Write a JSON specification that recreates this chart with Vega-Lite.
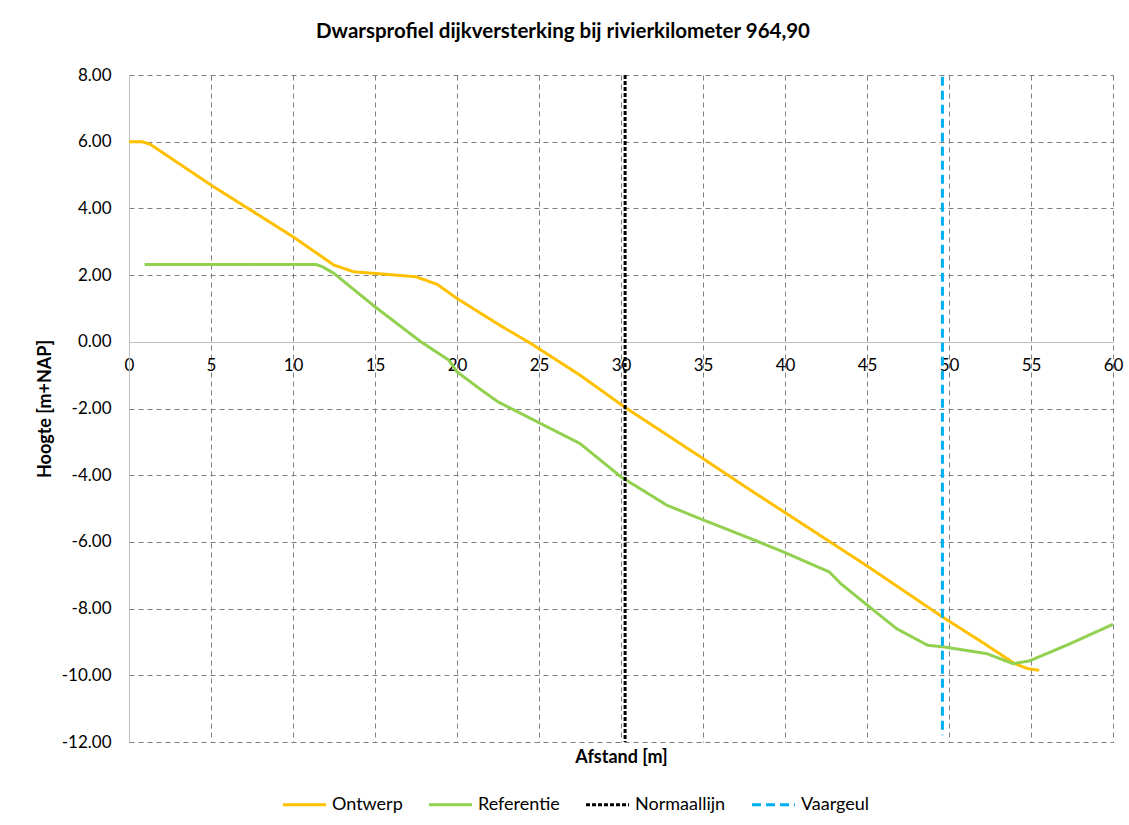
{
  "$schema": "https://vega.github.io/schema/vega-lite/v6.json",
  "width": 984,
  "height": 667,
  "autosize": {"type": "none"},
  "padding": {"left": 129, "top": 75, "right": 16, "bottom": 83},
  "background": "white",
  "config": {"font": "Lato", "view": {"stroke": null}},
  "title": {"text": "Dwarsprofiel dijkversterking bij rivierkilometer 964,90", "fontSize": 20.5, "fontWeight": "bold", "font": "Lato", "color": "#000000", "anchor": "middle", "dx": -58, "offset": 24},
  "data": {"values": [
    {"s": "Ontwerp", "i": 1, "x": 0, "y": 6.0},
    {"s": "Ontwerp", "i": 2, "x": 0.8, "y": 6.0},
    {"s": "Ontwerp", "i": 3, "x": 1.3, "y": 5.92},
    {"s": "Ontwerp", "i": 4, "x": 5, "y": 4.7},
    {"s": "Ontwerp", "i": 5, "x": 10, "y": 3.15},
    {"s": "Ontwerp", "i": 6, "x": 12.5, "y": 2.3},
    {"s": "Ontwerp", "i": 7, "x": 13.7, "y": 2.1},
    {"s": "Ontwerp", "i": 8, "x": 15, "y": 2.05},
    {"s": "Ontwerp", "i": 9, "x": 17.5, "y": 1.95},
    {"s": "Ontwerp", "i": 10, "x": 18.8, "y": 1.72},
    {"s": "Ontwerp", "i": 11, "x": 20, "y": 1.3},
    {"s": "Ontwerp", "i": 12, "x": 22.6, "y": 0.5},
    {"s": "Ontwerp", "i": 13, "x": 24.5, "y": -0.05},
    {"s": "Ontwerp", "i": 14, "x": 27.5, "y": -1.0},
    {"s": "Ontwerp", "i": 15, "x": 30.2, "y": -1.95},
    {"s": "Ontwerp", "i": 16, "x": 35, "y": -3.5},
    {"s": "Ontwerp", "i": 17, "x": 37.9, "y": -4.45},
    {"s": "Ontwerp", "i": 18, "x": 40, "y": -5.12},
    {"s": "Ontwerp", "i": 19, "x": 45, "y": -6.72},
    {"s": "Ontwerp", "i": 20, "x": 49.6, "y": -8.25},
    {"s": "Ontwerp", "i": 21, "x": 52, "y": -9.0},
    {"s": "Ontwerp", "i": 22, "x": 54, "y": -9.65},
    {"s": "Ontwerp", "i": 23, "x": 54.8, "y": -9.8},
    {"s": "Ontwerp", "i": 24, "x": 55.5, "y": -9.85},
    {"s": "Referentie", "i": 1, "x": 0.95, "y": 2.32},
    {"s": "Referentie", "i": 2, "x": 11.4, "y": 2.32},
    {"s": "Referentie", "i": 3, "x": 11.8, "y": 2.25},
    {"s": "Referentie", "i": 4, "x": 12.5, "y": 2.05},
    {"s": "Referentie", "i": 5, "x": 15, "y": 1.05},
    {"s": "Referentie", "i": 6, "x": 17.8, "y": 0.0},
    {"s": "Referentie", "i": 7, "x": 19.5, "y": -0.55},
    {"s": "Referentie", "i": 8, "x": 20, "y": -0.9},
    {"s": "Referentie", "i": 9, "x": 21.5, "y": -1.45},
    {"s": "Referentie", "i": 10, "x": 22.5, "y": -1.8},
    {"s": "Referentie", "i": 11, "x": 24.7, "y": -2.35},
    {"s": "Referentie", "i": 12, "x": 27.5, "y": -3.05},
    {"s": "Referentie", "i": 13, "x": 30, "y": -4.05},
    {"s": "Referentie", "i": 14, "x": 32.8, "y": -4.9},
    {"s": "Referentie", "i": 15, "x": 34.8, "y": -5.3},
    {"s": "Referentie", "i": 16, "x": 37.9, "y": -5.9},
    {"s": "Referentie", "i": 17, "x": 39.9, "y": -6.3},
    {"s": "Referentie", "i": 18, "x": 42.7, "y": -6.9},
    {"s": "Referentie", "i": 19, "x": 43.4, "y": -7.25},
    {"s": "Referentie", "i": 20, "x": 44.9, "y": -7.85},
    {"s": "Referentie", "i": 21, "x": 46.8, "y": -8.6},
    {"s": "Referentie", "i": 22, "x": 48.7, "y": -9.1},
    {"s": "Referentie", "i": 23, "x": 49.7, "y": -9.15},
    {"s": "Referentie", "i": 24, "x": 52.3, "y": -9.35},
    {"s": "Referentie", "i": 25, "x": 53.9, "y": -9.65},
    {"s": "Referentie", "i": 26, "x": 54.9, "y": -9.57},
    {"s": "Referentie", "i": 27, "x": 57.4, "y": -9.05},
    {"s": "Referentie", "i": 28, "x": 60, "y": -8.47},
    {"s": "Normaallijn", "i": 1, "x": 30.25, "y": 8},
    {"s": "Normaallijn", "i": 2, "x": 30.25, "y": -12},
    {"s": "Vaargeul", "i": 1, "x": 49.6, "y": 7.95},
    {"s": "Vaargeul", "i": 2, "x": 49.6, "y": -11.8}
  ]},
  "mark": {"type": "line", "strokeJoin": "round"},
  "encoding": {
    "x": {"field": "x", "type": "quantitative",
      "scale": {"domain": [0, 60], "nice": false, "zero": false},
      "axis": {"values": [0, 5, 10, 15, 20, 25, 30, 35, 40, 45, 50, 55, 60], "offset": -400,
        "title": "Afstand [m]", "titleY": 406, "titleFontSize": 18, "titleFontWeight": "bold", "titleColor": "#000000",
        "grid": true, "gridDash": [5, 4], "gridColor": "#7f7f7f", "gridWidth": 1,
        "domainColor": "#bfbfbf", "domainWidth": 1, "ticks": false, "labelPadding": 15,
        "labelFontSize": 17, "labelColor": "#000000", "labelFlush": false}},
    "y": {"field": "y", "type": "quantitative",
      "scale": {"domain": [-12, 8], "nice": false, "zero": false},
      "axis": {"values": [-12, -10, -8, -6, -4, -2, 0, 2, 4, 6, 8],
        "labelExpr": "replace(format(datum.value, '.2f'), '\u2212', '-')",
        "title": "Hoogte [m+NAP]", "titleFontSize": 18, "titleFontWeight": "bold", "titleColor": "#000000", "titlePadding": 7,
        "grid": true, "gridDash": [5, 4], "gridColor": "#7f7f7f", "gridWidth": 1,
        "domainColor": "#bfbfbf", "domainWidth": 1, "ticks": false, "labelPadding": 18,
        "labelFontSize": 17, "labelColor": "#000000"}},
    "color": {"field": "s", "type": "nominal",
      "scale": {"domain": ["Ontwerp", "Referentie", "Normaallijn", "Vaargeul"], "range": ["#FFC000", "#92D050", "#000000", "#00B0F0"]},
      "legend": {"title": null, "orient": "none", "legendX": 152, "legendY": 706, "direction": "horizontal",
        "symbolType": "stroke", "symbolSize": 1850, "symbolStrokeWidth": 3.5, "labelFontSize": 18, "labelColor": "#000000",
        "labelOffset": 4, "columnPadding": 19}},
    "strokeDash": {"field": "s", "type": "nominal",
      "scale": {"domain": ["Ontwerp", "Referentie", "Normaallijn", "Vaargeul"], "range": [[1, 0], [1, 0], [4, 2], [9, 5]]},
      "legend": {"title": null, "orient": "none", "legendX": 152, "legendY": 706, "direction": "horizontal",
        "symbolType": "stroke", "symbolSize": 1850, "symbolStrokeWidth": 3.5, "labelFontSize": 18, "labelColor": "#000000",
        "labelOffset": 4, "columnPadding": 19}},
    "strokeWidth": {"field": "s", "type": "ordinal",
      "scale": {"domain": ["Ontwerp", "Referentie", "Normaallijn", "Vaargeul"], "range": [3, 3, 2.2, 3.5]},
      "legend": null},
    "order": {"field": "i", "type": "quantitative"}
  }
}
